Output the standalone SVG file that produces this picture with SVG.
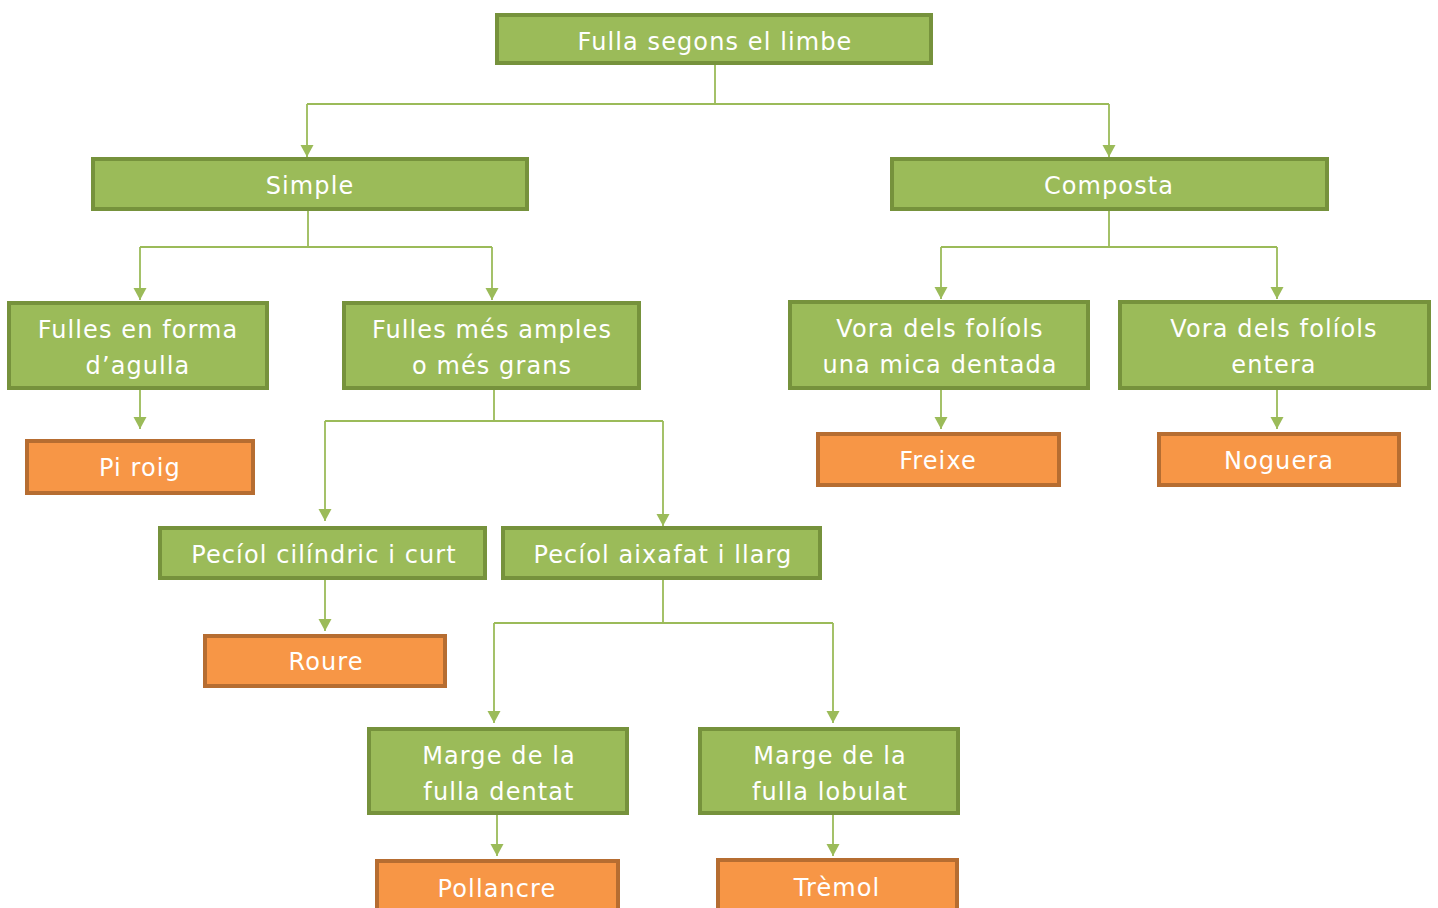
<svg xmlns="http://www.w3.org/2000/svg" width="1438" height="908" viewBox="0 0 1438 908">
<defs>
<style>
.g{fill:#9BBB59;stroke:#76923C;stroke-width:4}
.o{fill:#F79646;stroke:#B66D31;stroke-width:4}
.t{font-family:"DejaVu Sans",Verdana,sans-serif;font-size:24px;letter-spacing:1.1px;fill:#FFFFFF;text-anchor:middle}
.c{fill:none;stroke:#9BBB59;stroke-width:1.8}
</style>
<marker id="ah" markerUnits="userSpaceOnUse" markerWidth="14" markerHeight="14" refX="12" refY="7" orient="auto">
<path d="M0,0.5 L12,7 L0,13.5 Z" fill="#9BBB59"/>
</marker>
</defs>
<rect width="1438" height="908" fill="#FFFFFF"/>
<g id="connectors">
<path class="c" d="M715,64 V104 M307,104 H1109" />
<path class="c" d="M307,104 V157" marker-end="url(#ah)"/>
<path class="c" d="M1109,104 V157" marker-end="url(#ah)"/>
<path class="c" d="M308,211 V247 M140,247 H492"/>
<path class="c" d="M140,247 V300" marker-end="url(#ah)"/>
<path class="c" d="M492,247 V300" marker-end="url(#ah)"/>
<path class="c" d="M1109,211 V247 M941,247 H1277"/>
<path class="c" d="M941,247 V299" marker-end="url(#ah)"/>
<path class="c" d="M1277,247 V299" marker-end="url(#ah)"/>
<path class="c" d="M140,390 V429" marker-end="url(#ah)"/>
<path class="c" d="M941,390 V429" marker-end="url(#ah)"/>
<path class="c" d="M1277,390 V429" marker-end="url(#ah)"/>
<path class="c" d="M494,390 V421 M325,421 H663"/>
<path class="c" d="M325,421 V521" marker-end="url(#ah)"/>
<path class="c" d="M663,421 V526" marker-end="url(#ah)"/>
<path class="c" d="M325,580 V631" marker-end="url(#ah)"/>
<path class="c" d="M663,580 V623 M494,623 H833"/>
<path class="c" d="M494,623 V723" marker-end="url(#ah)"/>
<path class="c" d="M833,623 V723" marker-end="url(#ah)"/>
<path class="c" d="M497,815 V856" marker-end="url(#ah)"/>
<path class="c" d="M833,815 V856" marker-end="url(#ah)"/>
</g>
<g id="n-root"><rect class="g" x="497" y="15" width="434" height="48"/><text class="t" x="715" y="50">Fulla segons el limbe</text></g>
<g id="n-simple"><rect class="g" x="93" y="159" width="434" height="50"/><text class="t" x="310" y="194">Simple</text></g>
<g id="n-composta"><rect class="g" x="892" y="159" width="435" height="50"/><text class="t" x="1109" y="194">Composta</text></g>
<g id="n-agulla"><rect class="g" x="9" y="303" width="258" height="85"/><text class="t" x="138" y="338">Fulles en forma</text><text class="t" x="138" y="374">d’agulla</text></g>
<g id="n-amples"><rect class="g" x="344" y="303" width="295" height="85"/><text class="t" x="492" y="338">Fulles més amples</text><text class="t" x="492" y="374">o més grans</text></g>
<g id="n-dentada"><rect class="g" x="790" y="302" width="298" height="86"/><text class="t" x="940" y="337">Vora dels folíols</text><text class="t" x="940" y="373">una mica dentada</text></g>
<g id="n-entera"><rect class="g" x="1120" y="302" width="309" height="86"/><text class="t" x="1274" y="337">Vora dels folíols</text><text class="t" x="1274" y="373">entera</text></g>
<g id="n-piroig"><rect class="o" x="27" y="441" width="226" height="52"/><text class="t" x="140" y="476">Pi roig</text></g>
<g id="n-freixe"><rect class="o" x="818" y="434" width="241" height="51"/><text class="t" x="938" y="469">Freixe</text></g>
<g id="n-noguera"><rect class="o" x="1159" y="434" width="240" height="51"/><text class="t" x="1279" y="469">Noguera</text></g>
<g id="n-cilindric"><rect class="g" x="160" y="528" width="325" height="50"/><text class="t" x="324" y="563">Pecíol cilíndric i curt</text></g>
<g id="n-aixafat"><rect class="g" x="503" y="528" width="317" height="50"/><text class="t" x="663" y="563">Pecíol aixafat i llarg</text></g>
<g id="n-roure"><rect class="o" x="205" y="636" width="240" height="50"/><text class="t" x="326" y="670">Roure</text></g>
<g id="n-mdentat"><rect class="g" x="369" y="729" width="258" height="84"/><text class="t" x="499" y="764">Marge de la</text><text class="t" x="499" y="800">fulla dentat</text></g>
<g id="n-mlobulat"><rect class="g" x="700" y="729" width="258" height="84"/><text class="t" x="830" y="764">Marge de la</text><text class="t" x="830" y="800">fulla lobulat</text></g>
<g id="n-pollancre"><rect class="o" x="377" y="861" width="241" height="60"/><text class="t" x="497" y="897">Pollancre</text></g>
<g id="n-tremol"><rect class="o" x="718" y="860" width="239" height="60"/><text class="t" x="837" y="896">Trèmol</text></g>
</svg>
